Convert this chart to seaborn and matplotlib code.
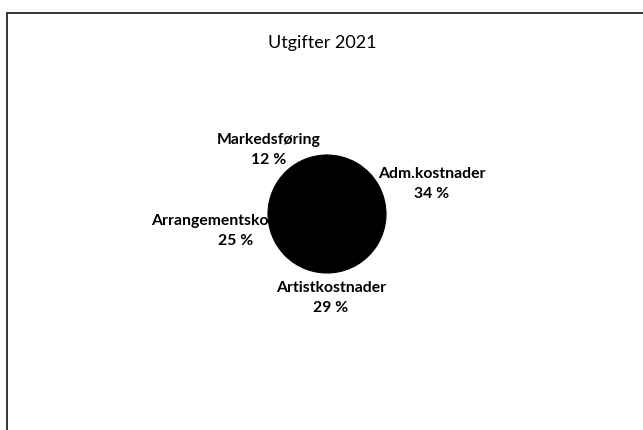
import matplotlib
matplotlib.use("Agg")
import matplotlib.pyplot as plt
import seaborn as sns

categories = ["Adm.kostnader", "Artistkostnader", "Arrangementskostnader", "Markedsføring"]
shares = [34, 29, 25, 12]
title = "Utgifter 2021"

# label centres in pixel coords (x, y from top)
label_pos = [(432, 184), (331, 298), (236, 231), (269, 150)]

sns.set_theme(style="white")
plt.rcParams['font.family'] = ['Lato', 'DejaVu Sans']

W, H = 643, 430
fig = plt.figure(figsize=(W / 100, H / 100), dpi=100)
ax = fig.add_axes([0, 0, 1, 1])

colors = sns.color_palette(["#000000"] * len(shares))
ax.pie(shares, colors=colors, startangle=90, counterclock=False,
       center=(327, H - 214), radius=59, frame=True,
       wedgeprops=dict(linewidth=0.8, edgecolor='black'))
ax.set_xlim(0, W)
ax.set_ylim(0, H)
ax.set_aspect('equal')
ax.axis('off')

for cat, val, (x, y) in zip(categories, shares, label_pos):
    ax.text(x, H - y, f"{cat}\n{val} %", ha='center', va='center',
            fontsize=11.3, fontweight='bold', color='black', linespacing=1.6)

ax.text(322, H - 43, title, ha='center', va='center', fontsize=13, color='black')

# chart area border (top and left edges visible in the scan)
ax.plot([7, 7, W + 5], [-5, H - 13, H - 13], color='#333333', lw=1.4,
        solid_joinstyle='miter', clip_on=False)

fig.savefig("out.png", dpi=100, facecolor='white')
